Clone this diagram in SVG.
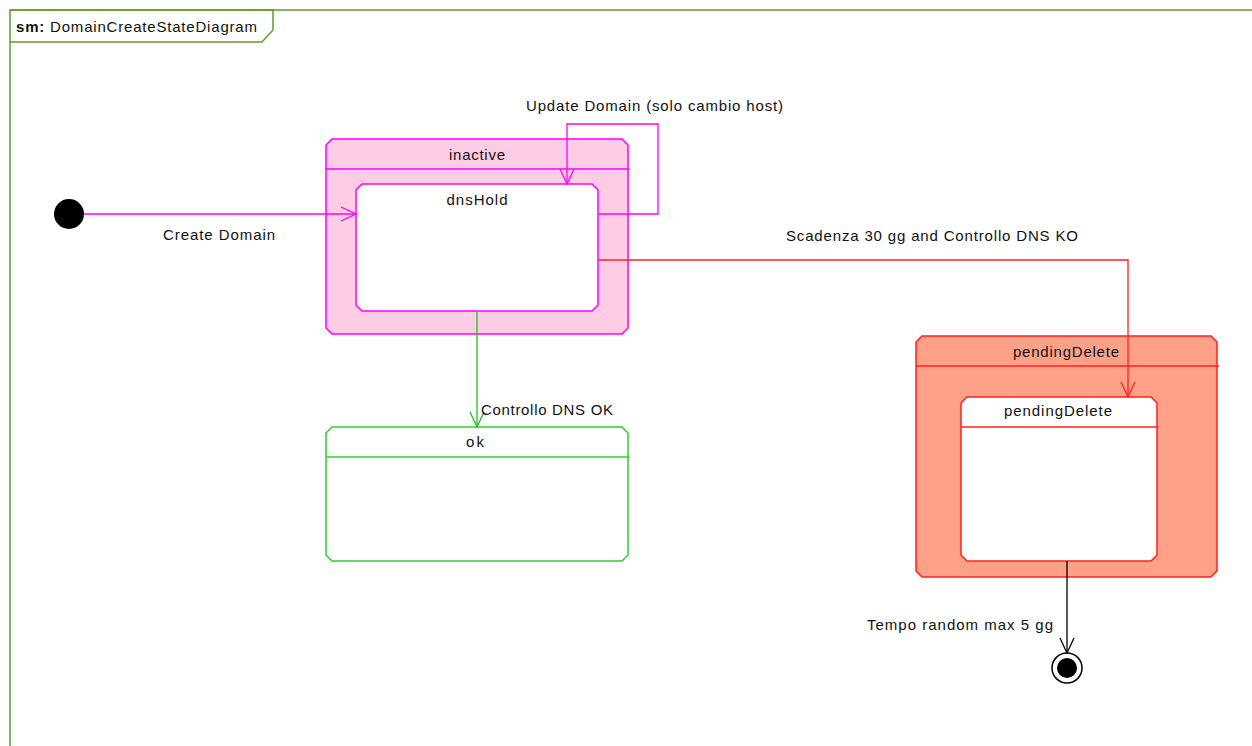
<svg xmlns="http://www.w3.org/2000/svg" width="1252" height="746" viewBox="0 0 1252 746">
<defs>
<style>
text{font-family:"Liberation Sans",Arial,sans-serif;font-size:15px;fill:#111;}
.c{text-anchor:middle;}
.frame{fill:none;stroke:#5f9c2e;stroke-width:1.5;}
.pinkS{fill:#FFCCE5;stroke:#FF00FF;stroke-width:1.5;}
.pinkI{fill:#fff;stroke:#FF00FF;stroke-width:1.5;}
.okS{fill:#fff;stroke:#33CC33;stroke-width:1.5;}
.redS{fill:#FFA088;stroke:#FF2020;stroke-width:1.5;}
.redI{fill:#fff;stroke:#FF2020;stroke-width:1.5;}
.ln{fill:none;stroke-width:1.3;}
</style>
<marker id="am" markerWidth="18" markerHeight="18" refX="16" refY="9" orient="auto" markerUnits="userSpaceOnUse"><polyline points="1,2 16,9 1,16" fill="none" stroke="#FF00FF" stroke-width="1.3"/></marker>
<marker id="ag" markerWidth="18" markerHeight="18" refX="16" refY="9" orient="auto" markerUnits="userSpaceOnUse"><polyline points="1,2 16,9 1,16" fill="none" stroke="#22BB22" stroke-width="1.3"/></marker>
<marker id="ar" markerWidth="18" markerHeight="18" refX="16" refY="9" orient="auto" markerUnits="userSpaceOnUse"><polyline points="1,2 16,9 1,16" fill="none" stroke="#FF2020" stroke-width="1.3"/></marker>
<marker id="ak" markerWidth="18" markerHeight="18" refX="16" refY="9" orient="auto" markerUnits="userSpaceOnUse"><polyline points="1,2 16,9 1,16" fill="none" stroke="#000" stroke-width="1.3"/></marker>
</defs>
<rect width="1252" height="746" fill="#fff"/>
<g id="frame">
<polyline class="frame" points="1252,10 10,10 10,746"/>
<polyline class="frame" points="10,10 273,10 273,30 262,42 10,42"/>
<text x="16" y="32" textLength="241" lengthAdjust="spacing"><tspan font-weight="bold">sm:</tspan> DomainCreateStateDiagram</text>
</g>
<g id="initial"><circle cx="69" cy="214" r="15" fill="#000"/></g>
<g id="inactive">
<path class="pinkS" d="M332,139 H622 L628,145 V328 L622,334 H332 L326,328 V145 Z"/>
<line x1="326" y1="169" x2="629" y2="169" stroke="#FF00FF" stroke-width="1.5"/>
<text class="c" x="477" y="160" textLength="56" lengthAdjust="spacing">inactive</text>
</g>
<g id="dnsHold">
<path class="pinkI" d="M362,184 H592 L598,190 V305 L592,311 H362 L356,305 V190 Z"/>
<text class="c" x="477" y="205" textLength="61" lengthAdjust="spacing">dnsHold</text>
</g>
<g id="ok">
<path class="okS" d="M332,427 H622 L628,433 V555 L622,561 H332 L326,555 V433 Z"/>
<line x1="326" y1="457" x2="629" y2="457" stroke="#33CC33" stroke-width="1.5"/>
<text class="c" x="475" y="447" textLength="18" lengthAdjust="spacing">ok</text>
</g>
<g id="pendingDeleteOuter">
<path class="redS" d="M922,336 H1211 L1217,342 V571 L1211,577 H922 L916,571 V342 Z"/>
<line x1="916" y1="366" x2="1219" y2="366" stroke="#FF2020" stroke-width="1.5"/>
<text class="c" x="1066" y="357" textLength="106" lengthAdjust="spacing">pendingDelete</text>
</g>
<g id="pendingDeleteInner">
<path class="redI" d="M967,397 H1151 L1157,403 V555 L1151,561 H967 L961,555 V403 Z"/>
<line x1="961" y1="427" x2="1158" y2="427" stroke="#FF2020" stroke-width="1.5"/>
<text class="c" x="1058" y="416" textLength="108" lengthAdjust="spacing">pendingDelete</text>
</g>
<g id="final">
<circle cx="1067" cy="668" r="15" fill="#fff" stroke="#000" stroke-width="1.5"/>
<circle cx="1067" cy="668" r="10" fill="#000"/>
</g>
<g id="connectors">
<line class="ln" x1="84" y1="214" x2="356" y2="214" stroke="#FF00FF" marker-end="url(#am)"/>
<text x="163" y="240" textLength="112" lengthAdjust="spacing">Create Domain</text>
<polyline class="ln" points="598,214 658,214 658,124 567,124 567,184" stroke="#FF00FF" marker-end="url(#am)"/>
<text x="526" y="111" textLength="257" lengthAdjust="spacing">Update Domain (solo cambio host)</text>
<line class="ln" x1="477" y1="311" x2="477" y2="427" stroke="#22BB22" marker-end="url(#ag)"/>
<text x="481" y="415" textLength="132" lengthAdjust="spacing">Controllo DNS OK</text>
<polyline class="ln" points="598,260 1128,260 1128,397" stroke="#FF2020" marker-end="url(#ar)"/>
<text x="786" y="241" textLength="292" lengthAdjust="spacing">Scadenza 30 gg and Controllo DNS KO</text>
<line class="ln" x1="1067" y1="561" x2="1067" y2="653" stroke="#000" marker-end="url(#ak)"/>
<text x="867" y="630" textLength="186" lengthAdjust="spacing">Tempo random max 5 gg</text>
</g>
</svg>
